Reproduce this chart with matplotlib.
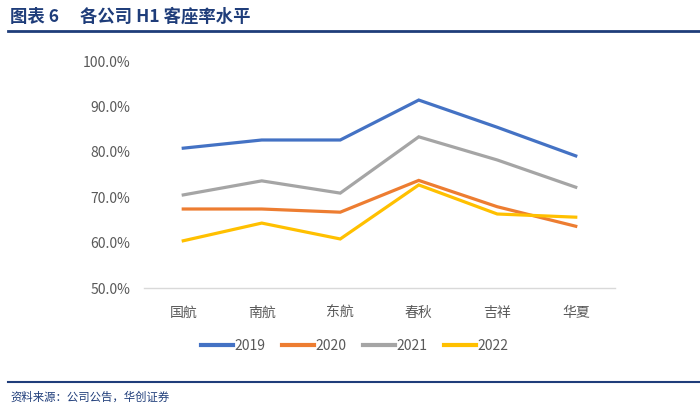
import matplotlib
matplotlib.use("Agg")
import matplotlib.pyplot as plt
from matplotlib.lines import Line2D

plt.rcParams['font.family'] = ['Noto Sans CJK SC', 'DejaVu Sans']

categories = ['国航', '南航', '东航', '春秋', '吉祥', '华夏']
years = ['2019', '2020', '2021', '2022']
v2019 = [80.8, 82.6, 82.6, 91.4, 85.4, 79.1]
v2020 = [67.4, 67.4, 66.7, 73.7, 67.9, 63.6]
v2021 = [70.5, 73.6, 70.9, 83.3, 78.2, 72.2]
v2022 = [60.4, 64.3, 60.8, 72.7, 66.3, 65.6]
yticks = [50, 60, 70, 80, 90, 100]
colors = ['#4472C4', '#ED7D31', '#A5A5A5', '#FFC000']

fig = plt.figure(figsize=(7.0, 4.09), dpi=100)
ax = fig.add_axes([144/700, 1-288/409, (615-144)/700, (288-61)/409])

x = list(range(len(categories)))
for vals, c, lab in zip([v2019, v2020, v2021, v2022], colors, years):
    ax.plot(x, vals, color=c, lw=2.3, label=lab, solid_joinstyle='miter')

ax.set_xlim(-0.5, len(categories) - 0.5)
ax.set_ylim(50, 100)
ax.set_yticks(yticks)
ax.set_yticklabels([f'{t:.1f}%' for t in yticks])
ax.set_xticks(x)
ax.set_xticklabels(categories)
for s in ['top', 'right', 'left']:
    ax.spines[s].set_visible(False)
ax.spines['bottom'].set_color('#D9D9D9')
ax.spines['bottom'].set_linewidth(1)
ax.tick_params(axis='both', length=0, labelsize=10, colors='#595959')
ax.tick_params(axis='y', pad=10)
ax.tick_params(axis='x', pad=13)

handles = [Line2D([0], [0], color=c, lw=3) for c in colors]
fig.legend(handles, years, loc='center', bbox_to_anchor=(355/700, 1-346/409),
           ncol=4, frameon=False, fontsize=10, handlelength=2.3,
           handletextpad=0.1, columnspacing=1.2, labelcolor='#595959')

# title
fig.text(10/700, 1-17/409, '图表 6', fontsize=12.5, fontweight='bold',
         color='#1F3D7A', va='center', ha='left')
fig.text(80/700, 1-17/409, '各公司 H1 客座率水平', fontsize=12.5, fontweight='bold',
         color='#1F3D7A', va='center', ha='left')
fig.add_artist(Line2D([8/700, 1.0], [1-31/409, 1-31/409], color='#1F3D7A', lw=2))
# source
fig.add_artist(Line2D([8/700, 1.0], [1-382/409, 1-382/409], color='#1F3D7A', lw=1.5))
fig.text(10/700, 1-397/409, '资料来源：公司公告，华创证券', fontsize=8.2, style='italic',
         color='#1F3D7A', va='center', ha='left')

fig.savefig('out.png', dpi=100)
